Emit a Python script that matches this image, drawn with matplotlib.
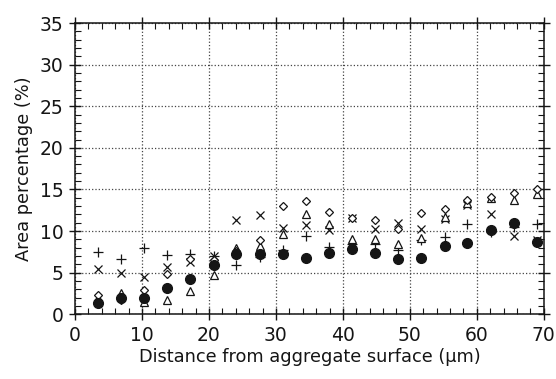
import numpy as np
import matplotlib
matplotlib.use("Agg")
import matplotlib.pyplot as plt
from matplotlib.ticker import MultipleLocator

# distance from the aggregate surface (um)
dist = [3.4, 6.9, 10.3, 13.8, 17.2, 20.7, 24.1, 27.6, 31.0, 34.5,
        37.9, 41.4, 44.8, 48.3, 51.7, 55.2, 58.6, 62.1, 65.5, 69.0]

# area percentage, one list per symbol
filled_circle = [1.4, 1.9, 2.0, 3.2, 4.2, 5.9, 7.2, 7.2, 7.2, 6.7,
                 7.4, 7.8, 7.4, 6.6, 6.7, 8.2, 8.6, 10.1, 11.0, 8.7]
open_diamond = [2.3, 1.7, 2.9, 4.8, 6.6, 6.5, 7.6, 8.9, 13.0, 13.6,
                12.3, 11.6, 11.3, 10.2, 12.2, 12.6, 13.7, 14.1, 14.6, 15.0]
open_triangle = [2.0, 2.6, 1.5, 1.7, 2.8, 4.7, 8.0, 8.2, 9.7, 12.1,
                 10.8, 9.1, 9.0, 8.5, 9.2, 11.7, 13.4, 14.0, 13.7, 14.4]
cross = [5.4, 5.0, 4.5, 5.7, 6.3, 7.0, 11.3, 11.9, 10.4, 10.7,
         10.1, 11.6, 10.2, 11.0, 10.2, 11.5, 13.1, 12.0, 9.4, 8.9]
plus = [7.5, 6.6, 7.9, 7.1, 7.2, 7.0, 5.9, 6.9, 7.7, 9.4,
        8.1, 8.5, 8.5, 7.7, 8.9, 9.3, 10.9, 9.9, 10.5, 10.8]

ink = "#151515"

fig = plt.figure(figsize=(5.56, 3.79), dpi=100)
ax = fig.add_axes([0.135, 0.171, 0.843, 0.768])

ax.plot(dist, plus, ls="none", marker="+", ms=7, mew=0.9, color=ink)
ax.plot(dist, cross, ls="none", marker="x", ms=6, mew=0.9, color=ink)
ax.plot(dist, open_triangle, ls="none", marker="^", ms=5.5, mew=0.9,
        mfc="white", mec=ink)
ax.plot(dist, open_diamond, ls="none", marker="D", ms=4.5, mew=0.9,
        mfc="white", mec=ink)
ax.plot(dist, filled_circle, ls="none", marker="o", ms=7, color=ink)

ax.set_xlim(0, 70)
ax.set_ylim(0, 35)
ax.xaxis.set_major_locator(MultipleLocator(10))
ax.xaxis.set_minor_locator(MultipleLocator(2))
ax.yaxis.set_major_locator(MultipleLocator(5))
ax.yaxis.set_minor_locator(MultipleLocator(1))

ax.tick_params(which="major", direction="inout", length=9, width=1.0,
               top=True, right=True, labelsize=13.5, colors=ink, pad=4)
ax.tick_params(which="minor", direction="in", length=4, width=0.8,
               top=True, right=True, colors=ink)

ax.grid(True, which="major", ls=":", lw=0.9, color="#444444")
for s in ax.spines.values():
    s.set_linewidth(1.1)
    s.set_color(ink)

ax.set_xlabel("Distance from aggregate surface (μm)", fontsize=12.8,
              color=ink, labelpad=2)
ax.set_ylabel("Area percentage (%)", fontsize=12.8, color=ink, labelpad=5)

fig.savefig("out.png", dpi=100)
